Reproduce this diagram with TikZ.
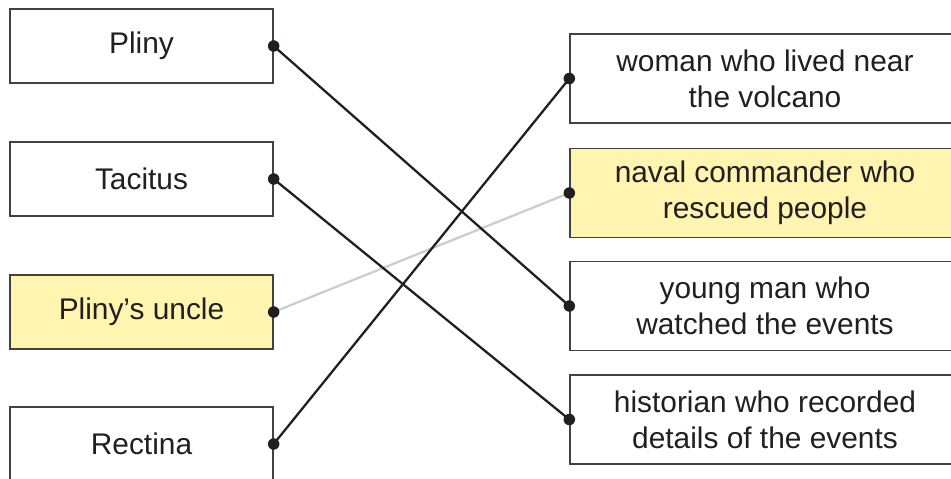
\documentclass[tikz,border=0pt]{standalone}
\usepackage{fontspec}
\setmainfont{Liberation Sans}
\definecolor{ink}{HTML}{231F20}
\definecolor{paleyellow}{RGB}{255,244,176}
\definecolor{fadedline}{RGB}{205,205,205}
\begin{document}
\begin{tikzpicture}[
			x=0.02cm, y=-0.02cm,
			every node/.style={font=\fontsize{17}{20.4}\selectfont, text=ink},
			leftbox/.style={draw=ink!85, line width=0.8pt, rectangle,
					minimum width=5.26cm, minimum height=1.48cm},
			rightbox/.style={draw=ink!85, line width=0.8pt, rectangle,
					minimum width=7.8cm, minimum height=1.78cm, align=center},
			marked/.style={fill=paleyellow},
			match/.style={line width=1.3pt, draw=ink},
			dot/.style={circle, fill=ink, inner sep=0pt, minimum size=0.23cm}
		]
		\useasboundingbox (0,0) rectangle (951,478);
		% people
		\node[leftbox] (pliny) at (141.5,46) {Pliny};
		\node[leftbox] (tacitus) at (141.5,179) {Tacitus};
		\node[leftbox, marked] (uncle) at (141.5,312) {Pliny’s uncle};
		\node[leftbox] (rectina) at (141.5,444) {Rectina};
		% descriptions
		\node[rightbox] (woman) at (765,78.5) {woman who lived near\\the volcano};
		\node[rightbox, marked] (naval) at (765,193) {naval commander who\\rescued people};
		\node[rightbox] (young) at (765,306) {young man who\\watched the events};
		\node[rightbox] (historian) at (765,419.5) {historian who recorded\\details of the events};
		% lines
		\draw[match, draw=fadedline] (uncle.east) -- (naval.west);
		\draw[match] (pliny.east) -- (young.west);
		\draw[match] (tacitus.east) -- (historian.west);
		\draw[match] (rectina.east) -- (woman.west);
		\foreach \n in {pliny,tacitus,uncle,rectina}
			\node[dot] at (\n.east) {};
		\foreach \n in {woman,naval,young,historian}
			\node[dot] at (\n.west) {};
	\end{tikzpicture}
\end{document}
